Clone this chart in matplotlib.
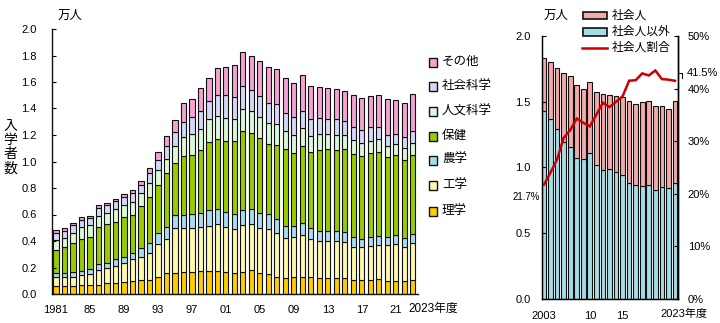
import matplotlib
matplotlib.use("Agg")
import matplotlib.pyplot as plt
import numpy as np
from matplotlib.lines import Line2D
from matplotlib.patches import Rectangle

plt.rcParams["font.family"] = ["Liberation Sans", "Noto Sans CJK JP", "DejaVu Sans"]

# enrolment by field, 1981-2023 (10k persons)
years = list(range(1981, 2024))
rigaku = [0.063, 0.063, 0.063, 0.068, 0.068, 0.068, 0.080, 0.080, 0.093, 0.100, 0.105,
          0.106, 0.131, 0.156, 0.161, 0.164, 0.169, 0.174, 0.176, 0.176, 0.169, 0.161,
          0.164, 0.181, 0.161, 0.148, 0.131, 0.118, 0.126, 0.126, 0.126, 0.118, 0.123,
          0.123, 0.118, 0.106, 0.106, 0.106, 0.111, 0.101, 0.101, 0.101, 0.106]
kogaku = [0.063, 0.065, 0.068, 0.075, 0.083, 0.113, 0.114, 0.131, 0.138, 0.167, 0.172,
          0.206, 0.246, 0.259, 0.335, 0.332, 0.327, 0.334, 0.340, 0.352, 0.339, 0.327,
          0.359, 0.347, 0.340, 0.340, 0.332, 0.305, 0.302, 0.319, 0.287, 0.282, 0.277,
          0.280, 0.272, 0.251, 0.246, 0.259, 0.256, 0.269, 0.276, 0.256, 0.276]
nogaku = [0.030, 0.028, 0.033, 0.033, 0.040, 0.043, 0.042, 0.051, 0.051, 0.040, 0.068,
          0.070, 0.081, 0.093, 0.100, 0.100, 0.108, 0.101, 0.118, 0.114, 0.113, 0.116,
          0.111, 0.111, 0.108, 0.116, 0.101, 0.090, 0.085, 0.088, 0.083, 0.078, 0.078,
          0.075, 0.075, 0.071, 0.066, 0.068, 0.071, 0.063, 0.068, 0.068, 0.071]
hoken = [0.176, 0.196, 0.218, 0.242, 0.242, 0.279, 0.290, 0.284, 0.297, 0.292, 0.319,
         0.348, 0.365, 0.408, 0.390, 0.448, 0.445, 0.478, 0.516, 0.525, 0.536, 0.553,
         0.599, 0.574, 0.566, 0.528, 0.561, 0.579, 0.554, 0.584, 0.578, 0.609, 0.614,
         0.609, 0.627, 0.626, 0.626, 0.629, 0.634, 0.598, 0.602, 0.586, 0.596]
jinbun = [0.076, 0.071, 0.081, 0.085, 0.085, 0.086, 0.088, 0.095, 0.090, 0.098, 0.096,
          0.105, 0.113, 0.105, 0.131, 0.143, 0.156, 0.161, 0.170, 0.176, 0.169, 0.161,
          0.166, 0.168, 0.163, 0.156, 0.156, 0.141, 0.133, 0.138, 0.118, 0.118, 0.116,
          0.113, 0.105, 0.108, 0.098, 0.095, 0.100, 0.088, 0.083, 0.093, 0.093]
shakai = [0.055, 0.055, 0.055, 0.055, 0.053, 0.060, 0.058, 0.061, 0.063, 0.065, 0.063,
          0.076, 0.075, 0.096, 0.108, 0.113, 0.133, 0.136, 0.140, 0.157, 0.174, 0.171,
          0.171, 0.159, 0.159, 0.156, 0.153, 0.131, 0.138, 0.129, 0.126, 0.121, 0.110,
          0.118, 0.111, 0.101, 0.096, 0.101, 0.091, 0.084, 0.078, 0.078, 0.088]
sonota = [0.017, 0.017, 0.019, 0.020, 0.020, 0.019, 0.017, 0.018, 0.020, 0.023, 0.029,
          0.037, 0.063, 0.073, 0.088, 0.139, 0.132, 0.168, 0.172, 0.203, 0.215, 0.241,
          0.259, 0.259, 0.261, 0.272, 0.262, 0.264, 0.257, 0.269, 0.252, 0.234, 0.234,
          0.227, 0.224, 0.241, 0.241, 0.239, 0.241, 0.266, 0.256, 0.262, 0.277]
field_labels = ["理学", "工学", "農学", "保健", "人文科学", "社会科学", "その他"]
field_colors = ["#FFCC00", "#FFF8A8", "#A8DCF4", "#99CC00", "#D8F8D8", "#D4D8F8", "#F4A4D4"]
left_ticks = [1981, 1985, 1989, 1993, 1997, 2001, 2005, 2009, 2013, 2017, 2021]
left_ticklabels = ["1981", "85", "89", "93", "97", "01", "05", "09", "13", "17", "21"]

# working adults vs others, 2003-2023 (10k persons)
years_r = list(range(2003, 2024))
shakaijin = [0.397, 0.432, 0.466, 0.525, 0.544, 0.558, 0.534, 0.542, 0.550, 0.582, 0.566,
             0.579, 0.590, 0.624, 0.615, 0.642, 0.639, 0.638, 0.612, 0.602, 0.625]
shakaijin_igai = [1.432, 1.367, 1.292, 1.191, 1.152, 1.070, 1.061, 1.111, 1.020, 0.978, 0.986,
                  0.966, 0.942, 0.880, 0.864, 0.855, 0.865, 0.831, 0.852, 0.842, 0.882]
right_ticks = [2003, 2010, 2015]
right_ticklabels = ["2003", "10", "15"]

W, H = 720, 323
fig = plt.figure(figsize=(W / 100, H / 100), dpi=100)


def fx(px):
    return px / W


def fy(py):
    return 1 - py / H


def axes_box(x0, y0, x1, y1):
    return [fx(x0), fy(y1), fx(x1) - fx(x0), fy(y0) - fy(y1)]


fs = 8      # numbers
fsj = 9     # japanese labels

# ---- left: stacked bars by field ----
ax = fig.add_axes(axes_box(52, 29, 418, 294))
bottom = np.zeros(len(years))
for vals, col in zip([rigaku, kogaku, nogaku, hoken, jinbun, shakai, sonota], field_colors):
    ax.bar(years, vals, bottom=bottom, width=0.6, color=col, edgecolor="#111111", linewidth=0.8)
    bottom += np.array(vals)

ax.set_xlim(1980.53, 2023.6)
ax.set_ylim(0, 2.0)
ax.set_yticks(np.arange(0, 2.01, 0.2))
ax.set_yticklabels([f"{v:.1f}" for v in np.arange(0, 2.01, 0.2)], fontsize=fs)
ax.set_xticks(left_ticks)
ax.set_xticklabels(left_ticklabels, fontsize=fs)
ax.tick_params(axis="y", direction="in", length=3, pad=11, width=0.8)
ax.tick_params(axis="x", length=0, pad=8)
for s in ["top", "right"]:
    ax.spines[s].set_visible(False)
for s in ["left", "bottom"]:
    ax.spines[s].set_linewidth(1.0)
    ax.spines[s].set_color("#111111")

fig.text(fx(408), fy(309), "2023年度", fontsize=8.5, ha="left", va="center")
fig.text(fx(70), fy(16), "万人", fontsize=fsj, ha="center", va="center")
fig.text(fx(10), fy(147), "入\n学\n者\n数", fontsize=10, ha="center", va="center", linespacing=1.05)

# legend, top to bottom
leg_y = [211, 185, 160, 136, 111, 86, 62]
for lab, col, py in zip(field_labels, field_colors, leg_y):
    fig.add_artist(Rectangle((fx(428.5), fy(py + 4.5)), fx(9), 9 / H, transform=fig.transFigure,
                             facecolor=col, edgecolor="#111111", linewidth=1.0))
    fig.text(fx(442), fy(py), lab, fontsize=fsj, ha="left", va="center")

# ---- right: working adults share ----
axr = fig.add_axes(axes_box(542, 36, 678, 298.7))
axr.bar(years_r, shakaijin_igai, width=0.72, color="#A4DCE8", edgecolor="#111111", linewidth=0.8)
axr.bar(years_r, shakaijin, bottom=shakaijin_igai, width=0.72, color="#F2AAAA",
        edgecolor="#111111", linewidth=0.8)
axr.set_xlim(2002.7, 2023.46)
axr.set_ylim(0, 2.0)
axr.set_yticks([0, 0.5, 1.0, 1.5, 2.0])
axr.set_yticklabels(["0.0", "0.5", "1.0", "1.5", "2.0"], fontsize=fs)
axr.set_xticks(right_ticks)
axr.set_xticklabels(right_ticklabels, fontsize=fs)
axr.tick_params(axis="y", direction="in", length=3, pad=8, width=0.8)
axr.tick_params(axis="x", length=0, pad=9)
axr.spines["top"].set_visible(False)
for s in ["left", "bottom", "right"]:
    axr.spines[s].set_linewidth(1.0)
    axr.spines[s].set_color("#111111")

ratio = [s / (s + n) * 100 for s, n in zip(shakaijin, shakaijin_igai)]
ax2 = axr.twinx()
ax2.plot(years_r, ratio, color="#CC0000", linewidth=1.8, solid_joinstyle="miter")
ax2.set_ylim(0, 50)
ax2.set_yticks([0, 10, 20, 30, 40, 50])
ax2.set_yticklabels([f"{v}%" for v in [0, 10, 20, 30, 40, 50]], fontsize=fs)
ax2.tick_params(axis="y", direction="in", length=3, pad=7, width=0.8)
ax2.spines["top"].set_visible(False)
ax2.spines["right"].set_linewidth(1.0)

fig.text(fx(540), fy(197), f"{ratio[0]:.1f}%", fontsize=7, ha="right", va="center")
fig.text(fx(687), fy(73), f"{ratio[-1]:.1f}%", fontsize=fs, ha="left", va="center")
fig.add_artist(Line2D([fx(678), fx(682), fx(682)], [fy(73), fy(73), fy(78)],
                      transform=fig.transFigure, color="#111111", linewidth=0.8))

fig.text(fx(660), fy(314), "2023年度", fontsize=8, ha="left", va="center")
fig.text(fx(556), fy(16), "万人", fontsize=fsj, ha="center", va="center")

# right legend
for lab, col, py in [("社会人", "#F2AAAA", 15.5), ("社会人以外", "#A4DCE8", 32)]:
    fig.add_artist(Rectangle((fx(583), fy(py + 3.5)), fx(24), 7 / H, transform=fig.transFigure,
                             facecolor=col, edgecolor="#111111", linewidth=1.2))
    fig.text(fx(612), fy(py), lab, fontsize=8.5, ha="left", va="center")
fig.add_artist(Line2D([fx(582), fx(607)], [fy(48), fy(48)], transform=fig.transFigure,
                      color="#CC0000", linewidth=1.8))
fig.text(fx(612), fy(48), "社会人割合", fontsize=8.5, ha="left", va="center")

fig.savefig("out.png", dpi=100)
